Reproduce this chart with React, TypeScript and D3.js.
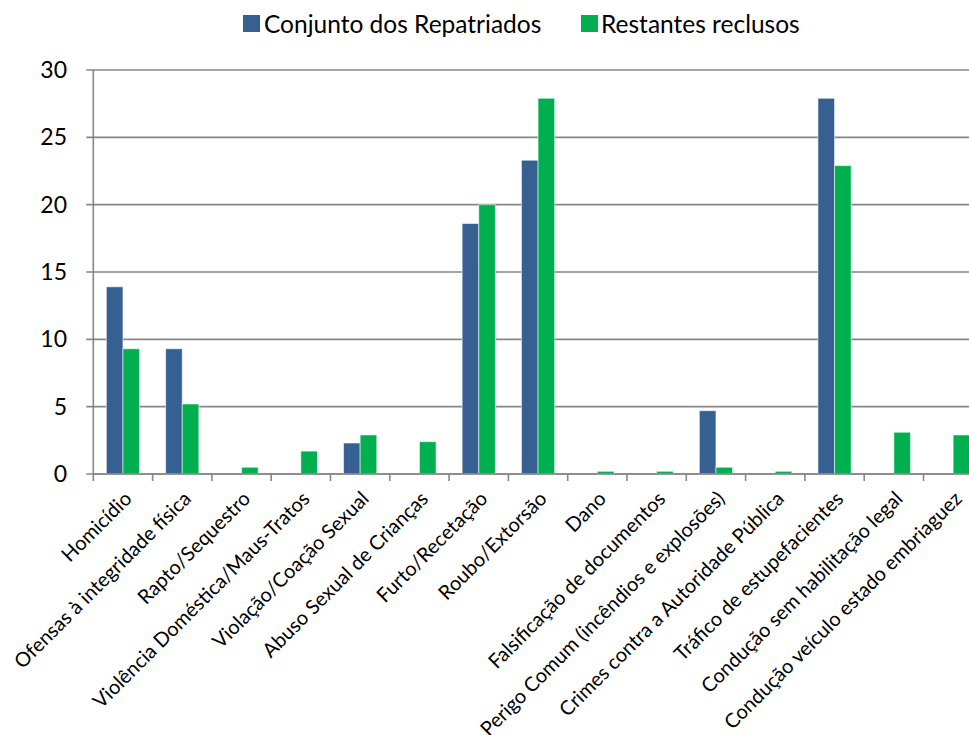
import React from "react";
import * as d3 from "d3";

const categories = [
  "Homicídio",
  "Ofensas à integridade física",
  "Rapto/Sequestro",
  "Violência Doméstica/Maus-Tratos",
  "Violação/Coação Sexual",
  "Abuso Sexual de Crianças",
  "Furto/Recetação",
  "Roubo/Extorsão",
  "Dano",
  "Falsificação de documentos",
  "Perigo Comum (incêndios e explosões)",
  "Crimes contra a Autoridade Pública",
  "Tráfico de estupefacientes",
  "Condução sem habilitação legal",
  "Condução veículo estado embriaguez",
];

const repatriados = [13.9, 9.3, 0, 0, 2.3, 0, 18.6, 23.3, 0, 0, 4.7, 0, 27.9, 0, 0];
const restantes = [9.3, 5.2, 0.5, 1.7, 2.9, 2.4, 20.0, 27.9, 0.2, 0.2, 0.5, 0.2, 22.9, 3.1, 2.9];

const seriesNames = ["Conjunto dos Repatriados", "Restantes reclusos"];
const seriesColors = ["#366092", "#00B050"];
const yTicks = [0, 5, 10, 15, 20, 25, 30];

const FONT = "Lato, 'Open Sans', sans-serif";

export default function App() {
  const W = 969;
  const H = 735;
  const left = 93.3;
  const step = 59.3;
  const right = left + step * categories.length;
  const top = 70;
  const bottom = 474;

  const x = d3
    .scaleBand<string>()
    .domain(categories)
    .range([left, right])
    .paddingInner(0.44)
    .paddingOuter(0.22);
  const x1 = d3.scaleBand<number>().domain([0, 1]).range([0, x.bandwidth()]);
  const y = d3.scaleLinear().domain([0, 30]).range([bottom, top]);

  const data = [repatriados, restantes];
  const gridColor = "#868686";

  return (
    <svg
      width={W}
      height={H}
      style={{ position: "absolute", left: 0, top: 0, background: "#fff" }}
      fontFamily={FONT}
    >
      {/* legend */}
      <g>
        <rect x={243} y={15} width={17} height={17} fill={seriesColors[0]} />
        <text x={264} y={33} fontSize={24.5} fill="#000">
          {seriesNames[0]}
        </text>
        <rect x={581} y={15} width={17} height={17} fill={seriesColors[1]} />
        <text x={601} y={33} fontSize={24.5} fill="#000">
          {seriesNames[1]}
        </text>
      </g>

      {/* gridlines */}
      {yTicks.map((t) => (
        <g key={t}>
          <line
            x1={left - 7}
            x2={right}
            y1={y(t)}
            y2={y(t)}
            stroke={gridColor}
            strokeWidth={1.6}
          />
          <text
            x={67}
            y={y(t)}
            dy="0.35em"
            textAnchor="end"
            fontSize={23}
            fill="#000"
          >
            {t}
          </text>
        </g>
      ))}

      {/* y axis */}
      <line x1={left} x2={left} y1={top} y2={bottom} stroke={gridColor} strokeWidth={1.6} />

      {/* x ticks */}
      {d3.range(categories.length + 1).map((i) => (
        <line
          key={i}
          x1={left + i * step}
          x2={left + i * step}
          y1={bottom}
          y2={bottom + 7}
          stroke={gridColor}
          strokeWidth={1.6}
        />
      ))}

      {/* bars */}
      {categories.map((c, ci) => (
        <g key={c} transform={`translate(${x(c)},0)`}>
          {data.map((s, si) =>
            s[ci] > 0 ? (
              <rect
                key={si}
                x={x1(si)}
                y={y(s[ci])}
                width={x1.bandwidth()}
                height={bottom - y(s[ci])}
                fill={seriesColors[si]}
                stroke="#ffffff"
                strokeOpacity={0.55}
                strokeWidth={1}
              />
            ) : null
          )}
        </g>
      ))}

      {/* x axis line */}
      <line x1={left} x2={right} y1={bottom} y2={bottom} stroke={gridColor} strokeWidth={1.6} />

      {/* x labels */}
      {categories.map((c) => {
        const cx = (x(c) as number) + x.bandwidth() / 2 + 10;
        const cy = bottom + 26;
        return (
          <text
            key={c}
            transform={`translate(${cx},${cy}) rotate(-45)`}
            textAnchor="end"
            fontSize={20}
            fill="#000"
          >
            {c}
          </text>
        );
      })}
    </svg>
  );
}
